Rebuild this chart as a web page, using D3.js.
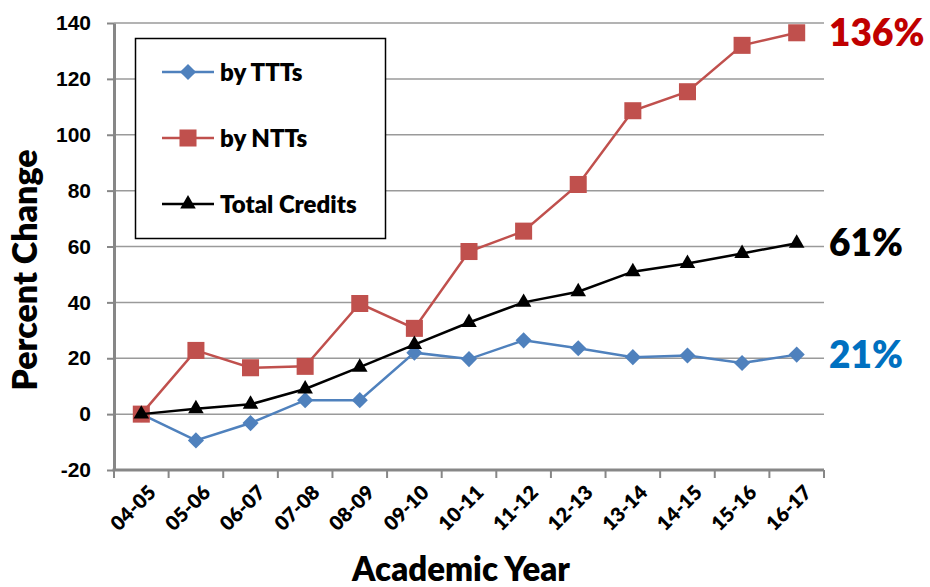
<!DOCTYPE html>
<html>
<head>
<meta charset="utf-8">
<script src="https://cdn.jsdelivr.net/npm/d3@7"></script>
<style>
  body { margin: 0; background: #fff; }
  svg { display: block; font-family: Lato, "Open Sans", sans-serif; font-weight: 800; }
</style>
</head>
<body>
<div id="chart"></div>
<script>
// data
const years = ["04-05", "05-06", "06-07", "07-08", "08-09", "09-10", "10-11",
               "11-12", "12-13", "13-14", "14-15", "15-16", "16-17"];
const byTTTs = [0, -9.4, -3.2, 5, 5, 22, 19.7, 26.4, 23.6, 20.4, 21, 18.3, 21.3];
const byNTTs = [0, 22.8, 16.6, 17.1, 39.6, 30.7, 58.2, 65.5, 82.2, 108.6, 115.4, 132, 136.5];
const totalCredits = [0, 1.9, 3.5, 9, 16.8, 24.9, 32.8, 40, 43.8, 51, 53.9, 57.5, 61.2];
const yTicks = [-20, 0, 20, 40, 60, 80, 100, 120, 140];

const series = [
  { name: "by TTTs", values: byTTTs, color: "#4F81BD", symbol: d3.symbolSquare, size: 130, rot: 45, end: "21%", endColor: "#0070C0" },
  { name: "by NTTs", values: byNTTs, color: "#C0504D", symbol: d3.symbolSquare, size: 290, rot: 0, end: "136%", endColor: "#C00000" },
  { name: "Total Credits", values: totalCredits, color: "#000000", symbol: d3.symbolTriangle, size: 105, rot: 0, end: "61%", endColor: "#000000" }
];

const width = 930;
const height = 587;
const margin = { top: 23, right: 106, bottom: 117, left: 114 };

const x = d3.scaleBand()
    .domain(years)
    .range([margin.left, width - margin.right]);

const y = d3.scaleLinear()
    .domain([-20, 140])
    .range([height - margin.bottom, margin.top]);

const svg = d3.select("#chart").append("svg")
    .attr("width", width)
    .attr("height", height);

// gridlines
svg.append("g")
    .selectAll("line")
    .data(yTicks.filter(d => d !== -20))
    .join("line")
      .attr("x1", margin.left)
      .attr("x2", width - margin.right)
      .attr("y1", d => y(d))
      .attr("y2", d => y(d))
      .attr("stroke", "#9a9a9a")
      .attr("stroke-width", 1.5);

// y axis (plain hyphen for negatives, like the original)
const yAxis = svg.append("g")
    .attr("transform", `translate(${margin.left},0)`)
    .call(d3.axisLeft(y).tickValues(yTicks).tickFormat(d => String(d))
      .tickSize(7).tickSizeOuter(0).tickPadding(16));
yAxis.select(".domain").attr("stroke", "#878787").attr("stroke-width", 3);
yAxis.selectAll(".tick line").attr("stroke", "#878787").attr("stroke-width", 2);
yAxis.selectAll("text").attr("font-size", 21).attr("fill", "#000");

// x axis, ticks on band edges
const xAxis = svg.append("g")
    .attr("transform", `translate(0,${y(-20)})`);
xAxis.append("line")
    .attr("x1", margin.left - 1.5)
    .attr("x2", width - margin.right)
    .attr("stroke", "#878787")
    .attr("stroke-width", 3);
xAxis.selectAll(".edge")
    .data(years.concat([null]))
    .join("line")
      .attr("class", "edge")
      .attr("x1", (d, i) => margin.left + i * x.bandwidth())
      .attr("x2", (d, i) => margin.left + i * x.bandwidth())
      .attr("y1", 0)
      .attr("y2", 8)
      .attr("stroke", "#878787")
      .attr("stroke-width", 2);
xAxis.selectAll(".lbl")
    .data(years)
    .join("text")
      .attr("class", "lbl")
      .attr("transform", d => `translate(${x(d) + x.bandwidth() / 2 + 6},${14}) rotate(-45)`)
      .attr("text-anchor", "end")
      .attr("dy", "0.7em")
      .attr("font-size", 20)
      .text(d => d);

// lines and markers
const line = d3.line()
    .x((d, i) => x(years[i]) + x.bandwidth() / 2)
    .y(d => y(d));

series.forEach(s => {
  const g = svg.append("g");
  g.append("path")
      .datum(s.values)
      .attr("fill", "none")
      .attr("stroke", s.color)
      .attr("stroke-width", 2.5)
      .attr("d", line);
  g.selectAll("path.mark")
      .data(s.values)
      .join("path")
        .attr("class", "mark")
        .attr("transform", (d, i) => `translate(${x(years[i]) + x.bandwidth() / 2},${y(d)}) rotate(${s.rot})`)
        .attr("d", d3.symbol(s.symbol, s.size))
        .attr("fill", s.color);
  // end labels
  const last = s.values[s.values.length - 1];
  g.append("text")
      .attr("x", width - margin.right + 5)
      .attr("y", y(last))
      .attr("dy", "0.36em")
      .attr("font-size", 37)
      .attr("fill", s.endColor)
      .text(s.end);
});

// legend
const legend = svg.append("g");
legend.append("rect")
    .attr("x", 135.5)
    .attr("y", 38.5)
    .attr("width", 250)
    .attr("height", 200)
    .attr("fill", "#fff")
    .attr("stroke", "#000")
    .attr("stroke-width", 1.5);
series.forEach((s, i) => {
  const ly = 72 + i * 66;
  legend.append("line")
      .attr("x1", 162).attr("x2", 214)
      .attr("y1", ly).attr("y2", ly)
      .attr("stroke", s.color)
      .attr("stroke-width", 2.5);
  legend.append("path")
      .attr("transform", `translate(188,${ly}) rotate(${s.rot})`)
      .attr("d", d3.symbol(s.symbol, s.size))
      .attr("fill", s.color);
  legend.append("text")
      .attr("x", 220)
      .attr("y", ly)
      .attr("dy", "0.36em")
      .attr("font-size", 24)
      .text(s.name);
});

// axis titles
svg.append("text")
    .attr("transform", `translate(37,270) rotate(-90)`)
    .attr("text-anchor", "middle")
    .attr("font-size", 34)
    .text("Percent Change");

svg.append("text")
    .attr("x", 461)
    .attr("y", 581)
    .attr("text-anchor", "middle")
    .attr("font-size", 33)
    .text("Academic Year");
</script>
</body>
</html>
